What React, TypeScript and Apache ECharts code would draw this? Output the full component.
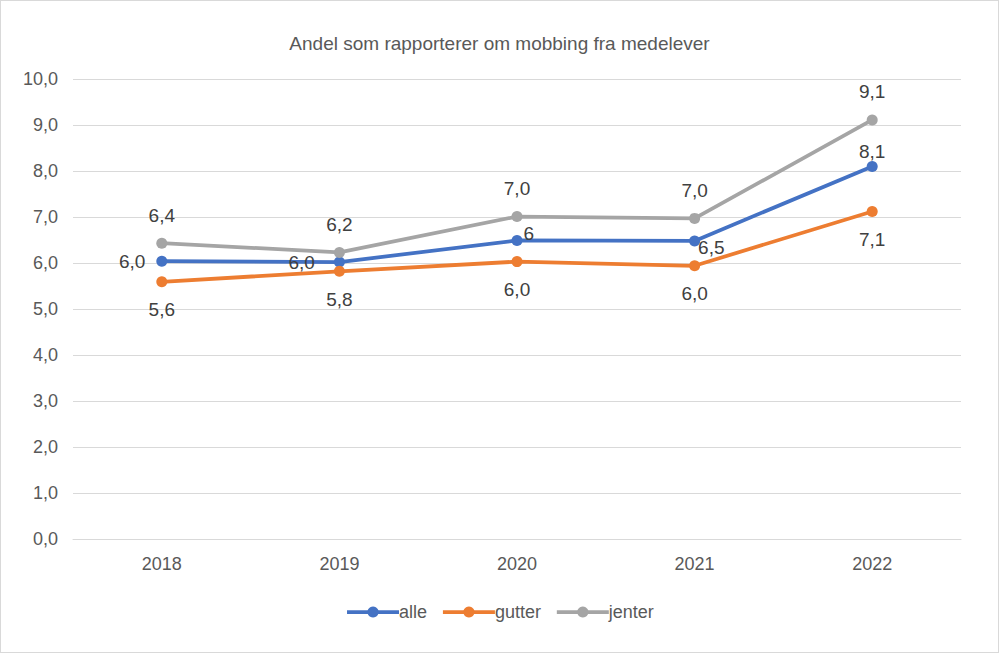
import React, { useEffect, useRef } from "react";
import * as echarts from "echarts";

const categories = ["2018", "2019", "2020", "2021", "2022"];
const alle = [6.04, 6.02, 6.49, 6.48, 8.1];
const gutter = [5.59, 5.82, 6.03, 5.94, 7.12];
const jenter = [6.43, 6.23, 7.01, 6.97, 9.11];
const alleLabels = ["6,0", "6,0", "6", "6,5", "8,1"];
const gutterLabels = ["5,6", "5,8", "6,0", "6,0", "7,1"];
const jenterLabels = ["6,4", "6,2", "7,0", "7,0", "9,1"];
const title = "Andel som rapporterer om mobbing fra medelever";

const FONT = "'Liberation Sans', Arial, sans-serif";

export default function App() {
  const ref = useRef<HTMLDivElement>(null);
  useEffect(() => {
    if (!ref.current) return;
    const chart = echarts.init(ref.current, null, { renderer: "svg" });
    const labelBase = { show: true, fontSize: 19, color: "#404040", fontFamily: FONT };
    const allePlacement: any[] = [
      { position: "left", distance: 11 },
      { position: "left", distance: 19 },
      { position: "right", distance: 1, offset: [0, -7] },
      { position: "right", distance: -2, offset: [0, 7] },
      { position: "top", distance: 0 },
    ];
    const mk = (name: string, vals: number[], labels: string[], color: string, placement: (i: number) => any) => ({
      name,
      type: "line",
      data: vals.map((v, i) => ({ value: v, label: { ...labelBase, formatter: labels[i], ...placement(i) } })),
      lineStyle: { color, width: 3.75 },
      itemStyle: { color },
      symbol: "circle",
      symbolSize: 11,
      z: 2,
    });
    chart.setOption({
      animation: false,
      backgroundColor: "#fff",
      title: {
        text: title,
        left: "center",
        top: 28,
        textStyle: { fontSize: 19, fontWeight: "normal", color: "#595959", fontFamily: FONT },
      },
      legend: {
        bottom: 26,
        left: "center",
        itemWidth: 52,
        itemHeight: 14,
        itemGap: 14,
        lineStyle: { width: 3.75 },
        textStyle: { fontSize: 18, color: "#595959", fontFamily: FONT, padding: [0, 0, 0, -5] },
        data: ["alle", "gutter", "jenter"],
      },
      grid: { left: 72, right: 37, top: 78, bottom: 113 },
      xAxis: {
        type: "category",
        data: categories,
        axisLine: { show: true, lineStyle: { color: "#d9d9d9", width: 1 } },
        axisTick: { show: false },
        axisLabel: { fontSize: 18, color: "#595959", fontFamily: FONT, margin: 16 },
      },
      yAxis: {
        type: "value",
        min: 0,
        max: 10,
        interval: 1,
        axisLine: { show: false },
        axisTick: { show: false },
        splitLine: { lineStyle: { color: "#d9d9d9", width: 1 } },
        axisLabel: {
          fontSize: 18,
          color: "#595959",
          fontFamily: FONT,
          margin: 15,
          formatter: (v: number) => v.toFixed(1).replace(".", ","),
        },
      },
      series: [
        mk("alle", alle, alleLabels, "#4472C4", (i) => allePlacement[i]),
        mk("gutter", gutter, gutterLabels, "#ED7D31", () => ({ position: "bottom", distance: 13 })),
        mk("jenter", jenter, jenterLabels, "#A5A5A5", () => ({ position: "top", distance: 13 })),
      ],
    });
    return () => chart.dispose();
  }, []);
  return (
    <div
      style={{
        position: "fixed",
        left: 0,
        top: 0,
        width: 999,
        height: 653,
        boxSizing: "border-box",
        border: "1px solid #d9d9d9",
        background: "#fff",
      }}
    >
      <div ref={ref} style={{ width: 997, height: 651 }} />
    </div>
  );
}
